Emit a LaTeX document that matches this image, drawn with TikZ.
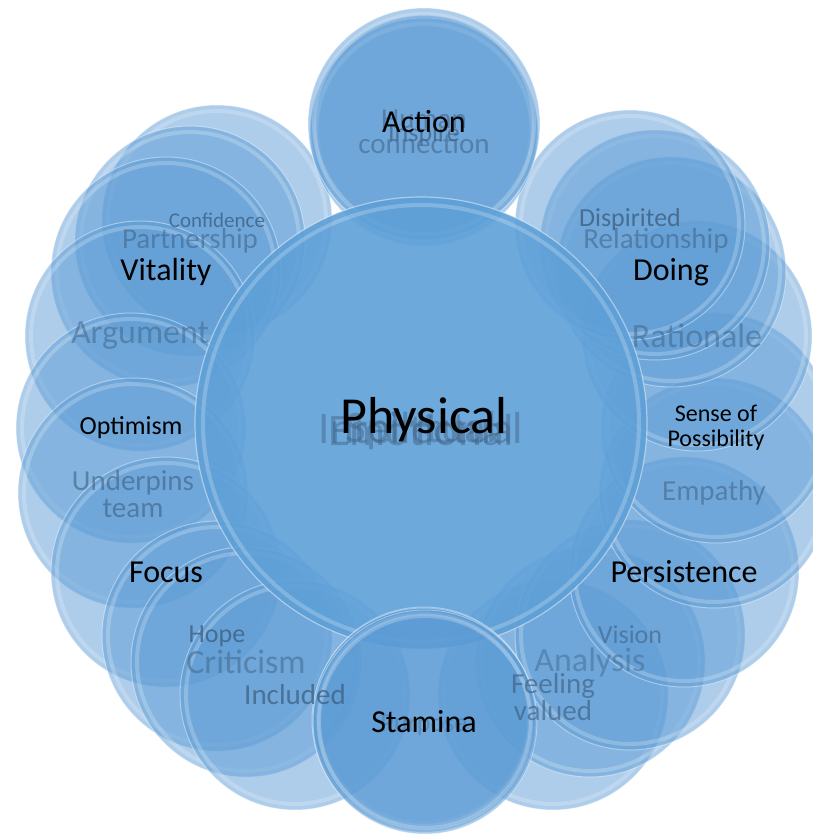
\documentclass[tikz,border=0pt]{standalone}
\usepackage{fontspec}
\setmainfont{Carlito}
\definecolor{bubfill}{HTML}{5B9BD5}
\definecolor{corefill}{HTML}{5EA0D8}
\definecolor{graytext}{HTML}{3E5F80}
\tikzset{
  bub/.style={circle, inner sep=0pt, fill=bubfill, fill opacity=0.5, draw=white, draw opacity=0.4, line width=1pt},
  gloss/.style={draw=white, draw opacity=0.22, line width=4pt},
  core/.style={circle, inner sep=0pt, fill=corefill, fill opacity=0.9, draw=white, draw opacity=0.45, line width=1.2pt},
  blk/.style={text=black, inner sep=0pt, align=center},
  gry/.style={text=graytext, text opacity=0.7, inner sep=0pt, align=center},
}
\newcommand\bubble[4]{%
  \node[bub, minimum size=#4pt*2] (#1) at (#2,#3) {};
  \draw[gloss] (#1.center) circle[radius=#4-6];
}
\newcommand\fs[1]{\fontsize{#1}{#1}\selectfont}
\begin{document}
\begin{tikzpicture}[x=1pt,y=-1pt]
\useasboundingbox (0,0) rectangle (813,836);
\clip (0,0) rectangle (813,836);
% top-left cluster
\bubble{con}{217}{220}{115}
\bubble{par}{190}{241}{115}
\bubble{vit}{166}{272}{115}
\bubble{arg}{140}{336}{115}
% left
\bubble{opt}{131}{428}{115}
\bubble{und}{133}{493}{115}
% bottom-left
\bubble{foc}{166}{572}{115}
\bubble{hop}{217}{636}{115}
\bubble{cri}{246}{662}{115}
\bubble{inc}{295}{695}{115}
% bottom-right
\bubble{fv}{553}{695}{115}
\bubble{ana}{590}{662}{115}
\bubble{vis}{630}{635}{115}
\bubble{per}{684}{572}{115}
% right
\bubble{emp}{714}{493}{115}
\bubble{sop}{716}{428}{115}
% top-right
\bubble{rat}{697}{336}{115}
\bubble{doi}{671}{272}{115}
\bubble{rel}{655}{245}{115}
\bubble{dis}{630}{225}{115}
% top
\bubble{ins}{424}{128}{113}
\bubble{hc}{424}{132}{114}
\bubble{act}{424}{124}{116}
% centre
\node[core, minimum size=452pt] (core) at (421,423) {};
\draw[gloss] (core.center) circle[radius=218];
% bottom
\bubble{emo}{424}{718}{111}
\bubble{pur}{424}{720}{112}
\bubble{sta}{425}{722}{112}
% grey texts
\node[gry, font=\fs{29}, text opacity=0.55] (thc) at (424,132) {Human\\[-4pt]connection};
\node[gry, font=\fs{26}] (tins) at (424,135) {Inspire};
\node[gry, font=\fs{26}, text opacity=0.8] (tdis) at (630,220) {Dispirited};
\node[gry, font=\fs{29}, text opacity=0.55] (trel) at (656,241) {Relationship};
\node[gry, font=\fs{34}, text opacity=0.5] (trat) at (697,336) {Rationale};
\node[gry, font=\fs{29}, text opacity=0.55] (temp) at (714,493) {Empathy};
\node[gry, font=\fs{26}, text opacity=0.6] (tvis) at (630,635) {Vision};
\node[gry, font=\fs{34}, text opacity=0.45] (tana) at (590,662) {Analysis};
\node[gry, font=\fs{29}, text opacity=0.65] (tfv) at (553,697) {Feeling\\[-2pt]valued};
\node[gry, font=\fs{26}, text opacity=0.35] (tpur) at (424,725) {Purpose};
\node[gry, font=\fs{26}, text opacity=0.8] (thop) at (217,636) {Hope};
\node[gry, font=\fs{34}, text opacity=0.5] (tcri) at (246,662) {Criticism};
\node[gry, font=\fs{29}, text opacity=0.75] (tinc) at (295,695) {Included};
\node[gry, font=\fs{29}, text opacity=0.6] (tund) at (133,494) {Underpins\\[-2pt]team};
\node[gry, font=\fs{34}, text opacity=0.5] (targ) at (140,336) {Argument};
\node[gry, font=\fs{29}, text opacity=0.55] (tpar) at (190,241) {Partnership};
\node[gry, font=\fs{21}, text opacity=0.8] (tcon) at (217,220) {Confidence};
\node[gry, font=\fs{45}, text opacity=0.45] (tint) at (421,428) {Intellectual};
\node[gry, font=\fs{45}, text opacity=0.45] (temo) at (421,430) {Emotional};
\node[gry, font=\fs{45}, text opacity=0.45] (tspi) at (421,430) {Spiritual};
% black texts
\node[blk, font=\fs{52}] (tphy) at (424,420) {Physical};
\node[blk, font=\fs{32}] (tact) at (424,122) {Action};
\node[blk, font=\fs{32}] (tdoi) at (671,272) {Doing};
\node[blk, font=\fs{24}] (tsop) at (716,428) {Sense of\\[1pt]Possibility};
\node[blk, font=\fs{32}] (tper) at (684,572) {Persistence};
\node[blk, font=\fs{32}] (tsta) at (424,722) {Stamina};
\node[blk, font=\fs{32}] (tfoc) at (166,572) {Focus};
\node[blk, font=\fs{26}] (topt) at (131,428) {Optimism};
\node[blk, font=\fs{32}] (tvit) at (166,272) {Vitality};
\end{tikzpicture}
\end{document}
